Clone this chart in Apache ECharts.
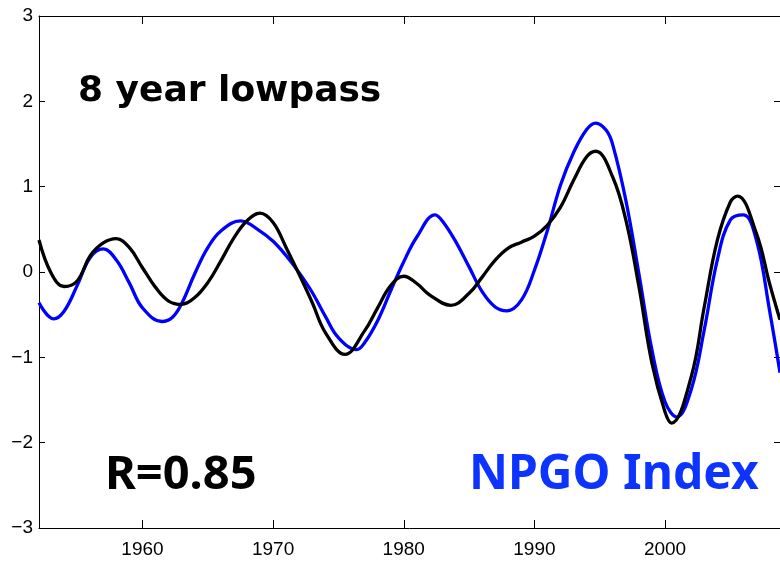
<!DOCTYPE html>
<html>
<head>
<meta charset="utf-8">
<script src="https://cdn.jsdelivr.net/npm/echarts@6/dist/echarts.min.js"></script>
<style>
  html, body { margin: 0; padding: 0; background: #fff; }
  #chart { width: 780px; height: 562px; }
</style>
</head>
<body>
<div id="chart"></div>
<script>
// 8-year lowpass filtered series (year, value)
const npgoYears = [1952.08, 1953.2, 1954, 1955, 1956, 1957, 1958, 1959, 1960, 1961.5, 1962.3, 1963, 1964, 1965, 1966, 1967.5, 1969, 1970, 1971, 1972, 1973, 1974, 1975, 1976.4, 1977, 1978, 1979, 1980, 1981, 1982.4, 1983, 1984, 1985, 1986, 1987, 1987.9, 1989, 1990, 1991, 1992, 1993, 1994, 1994.7, 1995.5, 1996, 1997, 1998, 1999, 2000, 2000.9, 2002, 2003, 2004, 2005, 2006, 2007, 2008, 2008.8];
const npgoValues = [-0.36, -0.55, -0.46, -0.16, 0.17, 0.27, 0.14, -0.13, -0.42, -0.58, -0.53, -0.37, -0.02, 0.285, 0.48, 0.60, 0.48, 0.36, 0.19, -0.01, -0.24, -0.52, -0.77, -0.91, -0.83, -0.57, -0.22, 0.12, 0.41, 0.67, 0.59, 0.35, 0.06, -0.23, -0.41, -0.455, -0.33, 0.02, 0.49, 1.02, 1.40, 1.67, 1.745, 1.66, 1.49, 0.84, -0.02, -0.915, -1.52, -1.70, -1.38, -0.68, 0.14, 0.61, 0.67, 0.37, -0.45, -1.18];

const obsYears = [1952.08, 1953, 1954, 1955, 1956, 1957, 1958, 1959, 1960, 1961, 1962, 1963, 1964, 1965, 1966, 1967, 1968, 1969, 1970, 1971, 1972, 1973, 1974, 1975.5, 1977, 1978, 1979, 1980, 1981, 1982, 1983.6, 1985, 1986, 1987, 1988, 1989, 1990, 1991, 1992, 1993, 1994, 1994.7, 1996, 1997, 1998, 1999, 2000, 2000.5, 2002, 2003, 2004, 2005, 2005.55, 2007, 2008, 2008.8];
const obsValues = [0.375, -0.01, -0.17, -0.105, 0.19, 0.34, 0.39, 0.285, 0.05, -0.18, -0.34, -0.38, -0.30, -0.125, 0.13, 0.40, 0.60, 0.69, 0.58, 0.285, -0.03, -0.36, -0.71, -0.965, -0.69, -0.42, -0.16, -0.05, -0.135, -0.27, -0.39, -0.25, -0.06, 0.14, 0.28, 0.35, 0.42, 0.55, 0.76, 1.075, 1.35, 1.415, 1.11, 0.61, -0.17, -1.07, -1.64, -1.77, -1.23, -0.41, 0.37, 0.82, 0.89, 0.45, -0.135, -0.56];

const yearTicks = [1960, 1970, 1980, 1990, 2000];

const xMin = 1952.08, xMax = 2008.8;

const chart = echarts.init(document.getElementById('chart'), null, { renderer: 'canvas' });

const frameLine = { show: true, onZero: false, lineStyle: { color: '#000', width: 1 } };
const tickFont = { fontFamily: '"Liberation Sans", Arial, sans-serif', fontSize: 19, color: '#000' };

function xAxisDef(position, withLabels) {
  return {
    type: 'value', position, min: xMin, max: xMax,
    axisLine: frameLine,
    axisTick: { show: true, inside: true, length: 8, customValues: yearTicks, lineStyle: { color: '#000', width: 1 } },
    axisLabel: withLabels ? Object.assign({ show: true, margin: 12, customValues: yearTicks, formatter: v => String(v) }, tickFont) : { show: false },
    splitLine: { show: false }
  };
}
function yAxisDef(position, withLabels) {
  return {
    type: 'value', position, min: -3, max: 3, interval: 1,
    axisLine: frameLine,
    axisTick: { show: true, inside: true, length: 6, lineStyle: { color: '#000', width: 1 } },
    axisLabel: withLabels ? Object.assign({ show: true, margin: 6, padding: [4, 0, 0, 0], formatter: v => (v < 0 ? '\u2212' + Math.abs(v) : String(v)) }, tickFont) : { show: false },
    splitLine: { show: false }
  };
}

chart.setOption({
  animation: false,
  backgroundColor: '#fff',
  grid: { left: 39, top: 16, right: -2, bottom: 34, containLabel: false },
  xAxis: [xAxisDef('bottom', true), xAxisDef('top', false)],
  yAxis: [yAxisDef('left', true), yAxisDef('right', false)],
  series: [
    {
      name: 'NPGO Index', type: 'line', xAxisIndex: 0, yAxisIndex: 0,
      data: npgoYears.map((y, i) => [y, npgoValues[i]]),
      smooth: 0.4, showSymbol: false,
      lineStyle: { color: '#0000ff', width: 3.3 }, itemStyle: { color: '#0000ff' }
    },
    {
      name: 'Lowpass record', type: 'line', xAxisIndex: 0, yAxisIndex: 0,
      data: obsYears.map((y, i) => [y, obsValues[i]]),
      smooth: 0.4, showSymbol: false,
      lineStyle: { color: '#000', width: 3.3 }, itemStyle: { color: '#000' }
    }
  ],
  graphic: [
    {
      type: 'text', left: 78, top: 74,
      style: { text: '8 year lowpass', fill: '#000', font: 'bold 36px "DejaVu Sans", sans-serif' }
    },
    {
      type: 'text', left: 105, top: 452,
      style: { text: 'R=0.85', fill: '#000', font: 'bold 47px "Noto Sans", sans-serif' }
    },
    {
      type: 'text', left: 469, top: 451,
      style: { text: 'NPGO Index', fill: '#0d33ff', font: 'bold 48px "Noto Sans", sans-serif' }
    }
  ]
});
</script>
</body>
</html>
